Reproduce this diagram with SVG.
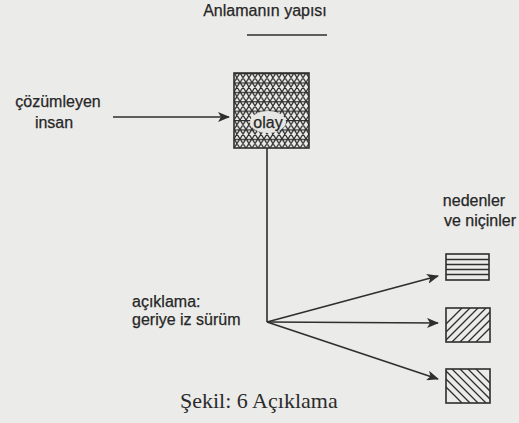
<svg xmlns="http://www.w3.org/2000/svg" width="519" height="423" viewBox="0 0 519 423">
  <defs>
    <style>
      .t { font-family: "Liberation Sans", Arial, sans-serif; font-size: 16px; fill: #262626; stroke: #262626; stroke-width: 0.25; }
      .cap { font-family: "Liberation Serif", "Times New Roman", serif; font-size: 22px; fill: #2b2b2b; }
      .ln { stroke: #2e2e2e; stroke-width: 1.6; fill: none; }
      .box { stroke: #2e2e2e; stroke-width: 1.6; }
      .hatch { stroke: #2e2e2e; stroke-width: 1.3; fill: none; }
    </style>
    <marker id="arr" viewBox="0 0 12 10" refX="11" refY="5" markerWidth="12" markerHeight="10" markerUnits="userSpaceOnUse" orient="auto">
      <path d="M0,0 L12,5 L0,10 L3,5 Z" fill="#2e2e2e"/>
    </marker>
    <pattern id="tri" patternUnits="userSpaceOnUse" x="234" y="73" width="12" height="9.4">
      <path d="M0,0.6 H12 M0,9.4 L6,0 M6,9.4 L12,0 M0,0 L6,9.4 M6,0 L12,9.4" stroke="#2e2e2e" stroke-width="1.3" fill="none"/>
    </pattern>
    <clipPath id="c2"><rect x="446" y="308" width="44" height="34"/></clipPath>
    <clipPath id="c3"><rect x="446" y="369" width="44" height="34"/></clipPath>
  </defs>
  <rect width="519" height="423" fill="#ebebe9"/>

  <g id="title">
    <text class="t" x="265" y="16" text-anchor="middle">Anlamanın yapısı</text>
    <line x1="247" y1="35" x2="327" y2="35" stroke="#2e2e2e" stroke-width="1.3"/>
  </g>

  <g id="cozumleyen">
    <text class="t" x="58" y="107" text-anchor="middle">çözümleyen</text>
    <text class="t" x="54" y="128" text-anchor="middle">insan</text>
  </g>

  <g id="olay">
    <rect x="234" y="73" width="75" height="75" fill="url(#tri)" class="box"/>
    <ellipse cx="268" cy="122" rx="18" ry="11" fill="#e6e6e4"/>
    <text class="t" x="268" y="128" text-anchor="middle">olay</text>
  </g>

  <g id="aciklama">
    <text class="t" x="132" y="307">açıklama:</text>
    <text class="t" x="132" y="325">geriye iz sürüm</text>
  </g>

  <g id="nedenler">
    <text class="t" x="474" y="206" text-anchor="middle">nedenler</text>
    <text class="t" x="480" y="226" text-anchor="middle">ve niçinler</text>
  </g>

  <g id="box1">
    <rect x="446" y="254" width="43" height="26" fill="none" class="box"/>
    <path class="hatch" d="M446,259.5 H489 M446,264.5 H489 M446,269.5 H489 M446,274.5 H489"/>
  </g>

  <g id="box2">
    <g clip-path="url(#c2)">
      <path class="hatch" d="M436,342 L470,308 M444,342 L478,308 M452,342 L486,308 M460,342 L494,308 M468,342 L502,308 M476,342 L510,308 M428,342 L462,308"/>
    </g>
    <rect x="446" y="308" width="44" height="34" fill="none" class="box"/>
  </g>

  <g id="box3">
    <g clip-path="url(#c3)">
      <path class="hatch" d="M436,369 L470,403 M444,369 L478,403 M452,369 L486,403 M460,369 L494,403 M468,369 L502,403 M476,369 L510,403 M428,369 L462,403"/>
    </g>
    <rect x="446" y="369" width="44" height="34" fill="none" class="box"/>
  </g>

  <g id="connectors">
    <line class="ln" x1="113" y1="117" x2="229" y2="117" marker-end="url(#arr)"/>
    <polyline class="ln" points="267,148 267,322"/>
    <line class="ln" x1="267" y1="322" x2="438" y2="276" marker-end="url(#arr)"/>
    <line class="ln" x1="267" y1="322" x2="438" y2="323" marker-end="url(#arr)"/>
    <line class="ln" x1="267" y1="322" x2="438" y2="379" marker-end="url(#arr)"/>
  </g>

  <g id="caption">
    <text class="cap" x="180" y="408">Şekil: 6 Açıklama</text>
  </g>
</svg>
